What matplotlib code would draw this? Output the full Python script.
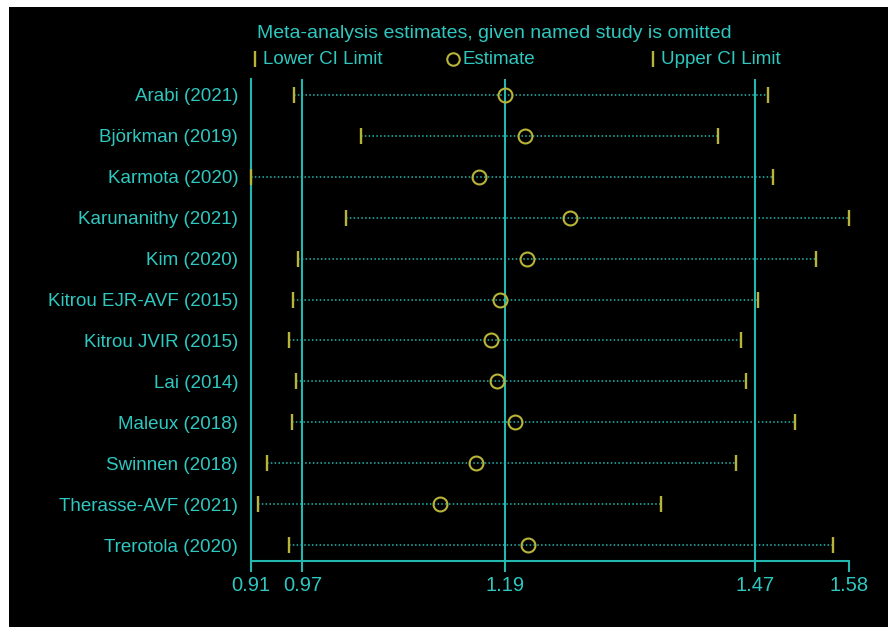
import matplotlib
matplotlib.use("Agg")
import matplotlib.pyplot as plt
from matplotlib.patches import Rectangle

# studies, top to bottom
studies = ["Arabi (2021)", "Björkman (2019)", "Karmota (2020)", "Karunanithy (2021)",
           "Kim (2020)", "Kitrou EJR-AVF (2015)", "Kitrou JVIR (2015)", "Lai (2014)",
           "Maleux (2018)", "Swinnen (2018)", "Therasse-AVF (2021)", "Trerotola (2020)"]
lower = [0.959, 1.033, 0.910, 1.017, 0.963, 0.957, 0.953, 0.961, 0.956, 0.928, 0.918, 0.953]
estimate = [1.195, 1.217, 1.166, 1.268, 1.219, 1.189, 1.179, 1.186, 1.206, 1.162, 1.122, 1.220]
upper = [1.489, 1.433, 1.495, 1.580, 1.543, 1.478, 1.459, 1.465, 1.519, 1.454, 1.370, 1.562]

# overall CI lower, estimate, upper
overall = [0.968, 1.195, 1.4745]
tick_vals = [0.91, 0.968, 1.195, 1.4745, 1.58]
tick_labels = ["0.91", "0.97", "1.19", "1.47", "1.58"]

title = "Meta-analysis estimates, given named study is omitted"
legend_labels = ["Lower CI Limit", "Estimate", "Upper CI Limit"]

CYAN = "#2ec8c0"
LINE = "#22b8b0"
YEL = "#b8b43a"
FS = 13.5

plt.rcParams["font.family"] = ["Liberation Sans", "DejaVu Sans"]

W, H = 888, 627
fig = plt.figure(figsize=(W / 100, H / 100), dpi=100, facecolor="white")
fig.add_artist(Rectangle((9 / W, 0), 1 - 9 / W, 1 - 7 / H, transform=fig.transFigure,
                         facecolor="black", edgecolor="none", zorder=0))

ax = fig.add_axes([250.7 / W, (H - 561) / H, (849 - 250.7) / W, (561 - 79) / H])
ax.set_facecolor("black")

ys = list(range(1, len(studies) + 1))
for y, lo, est, hi in zip(ys, lower, estimate, upper):
    ax.plot([lo, hi], [y, y], color=LINE, lw=1.1, ls=(0, (1, 1.5)), zorder=2)
ax.plot(lower, ys, ls="none", marker="|", ms=12, mew=1.7, color=YEL, zorder=3, clip_on=False)
ax.plot(upper, ys, ls="none", marker="|", ms=12, mew=1.7, color=YEL, zorder=3, clip_on=False)
ax.plot(estimate, ys, ls="none", marker="o", ms=10, mfc="none", mec=YEL, mew=1.5, zorder=4)

for v in overall:
    ax.axvline(v, color=LINE, lw=1.5, zorder=1)

ax.set_xlim(0.91, 1.58)
ax.set_ylim(12.39, 0.61)
ax.set_xticks(tick_vals)
ax.set_xticklabels(tick_labels)
ax.set_yticks(ys)
ax.set_yticklabels(studies)
ax.tick_params(axis="x", colors=LINE, labelcolor=CYAN, labelsize=14.5, length=8, width=1.5, pad=3)
ax.tick_params(axis="y", length=0, labelcolor=CYAN, labelsize=FS, pad=9)
for s in ["top", "right"]:
    ax.spines[s].set_visible(False)
for s in ["left", "bottom"]:
    ax.spines[s].set_color(LINE)
    ax.spines[s].set_linewidth(1.5)
ax.spines["bottom"].set_bounds(0.91, 1.58)

# title and legend above the plot
fig.text(257 / W, 1 - 34 / H, title, color=CYAN, fontsize=14, va="center", ha="left")
leg_y = 1 - 59 / H
leg_marks = [(255, "|"), (453, "o"), (653, "|")]
for (px, m), lab in zip(leg_marks, legend_labels):
    if m == "o":
        fig.add_artist(plt.Line2D([px / W], [leg_y], marker="o", ms=9, mfc="none", mec=YEL,
                                  mew=1.5, ls="none", transform=fig.transFigure))
        fig.text((px + 9) / W, leg_y, lab, color=CYAN, fontsize=FS, va="center", ha="left")
    else:
        fig.add_artist(plt.Line2D([px / W], [leg_y], marker="|", ms=11, mew=1.7, color=YEL,
                                  ls="none", transform=fig.transFigure))
        fig.text((px + 8) / W, leg_y, lab, color=CYAN, fontsize=FS, va="center", ha="left")

fig.savefig("out.png", dpi=100, facecolor="white")
